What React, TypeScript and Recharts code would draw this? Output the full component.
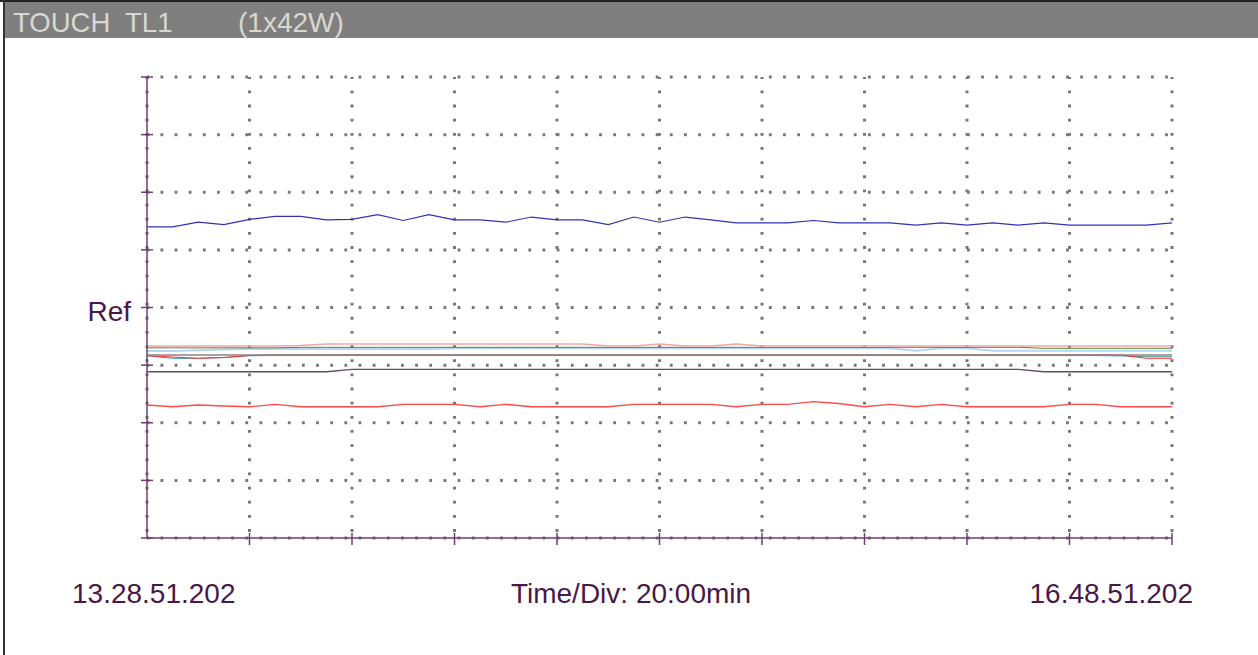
import { LineChart, Line, XAxis, YAxis, CartesianGrid } from 'recharts'

// sample times in minutes from start (5 min steps, 20 min per division)
const minutes = [
  0, 5, 10, 15, 20, 25, 30, 35, 40, 45, 50, 55, 60, 65, 70, 75, 80, 85, 90, 95, 100,
  105, 110, 115, 120, 125, 130, 135, 140, 145, 150, 155, 160, 165, 170, 175, 180, 185, 190, 195, 200,
]

// values in divisions relative to the Ref line
const blue = [
  1.4, 1.4, 1.48, 1.44, 1.53, 1.58, 1.58, 1.52, 1.53, 1.61, 1.51, 1.61, 1.52, 1.52, 1.48, 1.57, 1.52,
  1.52, 1.44, 1.57, 1.48, 1.57, 1.52, 1.47, 1.47, 1.47, 1.51, 1.47, 1.47, 1.47, 1.43, 1.47, 1.43,
  1.47, 1.43, 1.47, 1.43, 1.43, 1.43, 1.43, 1.47,
]
const pink = [
  -0.668, -0.668, -0.668, -0.668, -0.668, -0.668, -0.66, -0.634, -0.634, -0.634, -0.634, -0.634,
  -0.634, -0.634, -0.634, -0.634, -0.634, -0.634, -0.668, -0.668, -0.634, -0.668, -0.668, -0.634,
  -0.668, -0.668, -0.668, -0.668, -0.668, -0.668, -0.668, -0.668, -0.668, -0.668, -0.668, -0.668,
  -0.668, -0.668, -0.668, -0.668, -0.668,
]
const green = [
  -0.7, -0.7, -0.7, -0.7, -0.7, -0.7, -0.691, -0.691, -0.691, -0.691, -0.691, -0.691, -0.691, -0.691,
  -0.691, -0.691, -0.691, -0.691, -0.691, -0.691, -0.691, -0.691, -0.691, -0.691, -0.691, -0.691,
  -0.691, -0.691, -0.691, -0.691, -0.691, -0.691, -0.691, -0.691, -0.691, -0.708, -0.708, -0.708,
  -0.708, -0.708, -0.708,
]
const lightBlue = [
  -0.755, -0.755, -0.743, -0.729, -0.72, -0.72, -0.72, -0.72, -0.72, -0.72, -0.72, -0.72, -0.708,
  -0.708, -0.708, -0.708, -0.708, -0.708, -0.708, -0.708, -0.708, -0.708, -0.708, -0.708, -0.708,
  -0.708, -0.708, -0.708, -0.708, -0.708, -0.75, -0.708, -0.708, -0.75, -0.75, -0.75, -0.75, -0.75,
  -0.75, -0.75, -0.75,
]
const teal = [
  -0.837, -0.882, -0.882, -0.868, -0.837, -0.833, -0.833, -0.833, -0.833, -0.833, -0.833, -0.833,
  -0.833, -0.833, -0.833, -0.833, -0.833, -0.833, -0.833, -0.833, -0.833, -0.833, -0.833, -0.833,
  -0.833, -0.833, -0.833, -0.833, -0.833, -0.833, -0.833, -0.833, -0.833, -0.833, -0.833, -0.833,
  -0.833, -0.833, -0.84, -0.854, -0.854,
]
const redMid = [
  -0.837, -0.859, -0.882, -0.868, -0.833, -0.824, -0.824, -0.824, -0.824, -0.824, -0.824, -0.824,
  -0.824, -0.824, -0.824, -0.824, -0.824, -0.824, -0.824, -0.824, -0.824, -0.824, -0.824, -0.824,
  -0.824, -0.824, -0.824, -0.824, -0.824, -0.824, -0.824, -0.824, -0.824, -0.824, -0.824, -0.824,
  -0.824, -0.824, -0.824, -0.882, -0.882,
]
const gray = [
  -0.824, -0.824, -0.824, -0.824, -0.824, -0.824, -0.824, -0.824, -0.824, -0.824, -0.824, -0.824,
  -0.824, -0.824, -0.824, -0.824, -0.824, -0.824, -0.824, -0.824, -0.824, -0.824, -0.824, -0.824,
  -0.824, -0.824, -0.824, -0.824, -0.824, -0.824, -0.824, -0.824, -0.824, -0.824, -0.824, -0.824,
  -0.824, -0.824, -0.824, -0.824, -0.824,
]
const dark = [
  -1.114, -1.114, -1.114, -1.114, -1.114, -1.114, -1.114, -1.114, -1.073, -1.073, -1.073, -1.073,
  -1.073, -1.073, -1.073, -1.073, -1.073, -1.073, -1.073, -1.073, -1.073, -1.073, -1.073, -1.073,
  -1.073, -1.073, -1.073, -1.073, -1.073, -1.073, -1.073, -1.073, -1.073, -1.073, -1.073, -1.114,
  -1.114, -1.114, -1.114, -1.114, -1.114,
]
const redLow = [
  -1.692, -1.722, -1.692, -1.709, -1.722, -1.68, -1.722, -1.722, -1.722, -1.722, -1.68, -1.68, -1.68,
  -1.722, -1.68, -1.722, -1.722, -1.722, -1.722, -1.68, -1.68, -1.68, -1.68, -1.722, -1.68, -1.68,
  -1.635, -1.666, -1.722, -1.68, -1.722, -1.68, -1.722, -1.722, -1.722, -1.722, -1.68, -1.68, -1.722,
  -1.722, -1.722,
]

const xTicks = [0, 20, 40, 60, 80, 100, 120, 140, 160, 180, 200]
const yTicks = [-4, -3, -2, -1, 0, 1, 2, 3, 4]
const startTime = '13.28.51.202'
const endTime = '16.48.51.202'
const timeDiv = 'Time/Div: 20:00min'
const title = 'TOUCH  TL1'
const subtitle = '(1x42W)'

const FONT = '"Liberation Sans", Arial, sans-serif'
const AXIS = '#6e3f6e'
const TEXT = '#4a1848'

const data = minutes.map((t, i) => ({
  t,
  blue: blue[i],
  pink: pink[i],
  green: green[i],
  lightBlue: lightBlue[i],
  teal: teal[i],
  redMid: redMid[i],
  gray: gray[i],
  dark: dark[i],
  redLow: redLow[i],
}))

function YTick({ x, y, payload }: any) {
  return (
    <g>
      <line x1={x - 6} x2={x + 6} y1={y} y2={y} stroke={AXIS} strokeWidth={1.5} />
      {payload.value === 0 && (
        <text x={x - 16} y={y + 13} textAnchor="end" fontSize={28} fill={TEXT} fontFamily={FONT}>
          Ref
        </text>
      )}
    </g>
  )
}

function XTick({ x, y, index }: any) {
  const last = xTicks.length - 1
  return (
    <g>
      {index > 0 && <line x1={x} x2={x} y1={y - 5} y2={y + 7} stroke={AXIS} strokeWidth={1.5} />}
      {index === 0 && (
        <text x={x - 75} y={y + 65} textAnchor="start" fontSize={28} fill={TEXT} fontFamily={FONT}>
          {startTime}
        </text>
      )}
      {index === 5 && (
        <text x={x - 28.5} y={y + 65} textAnchor="middle" fontSize={28} fill={TEXT} fontFamily={FONT}>
          {timeDiv}
        </text>
      )}
      {index === last && (
        <text x={x + 21} y={y + 65} textAnchor="end" fontSize={28} fill={TEXT} fontFamily={FONT}>
          {endTime}
        </text>
      )}
    </g>
  )
}

export default function App() {
  return (
    <div style={{ position: 'absolute', left: 0, top: 0, width: 1258, height: 655, background: '#fff' }}>
      <div style={{ position: 'absolute', left: 0, top: 0, width: 1258, height: 2, background: '#222' }} />
      <div style={{ position: 'absolute', left: 3, top: 0, width: 2, height: 655, background: '#333' }} />
      <div style={{ position: 'absolute', left: 5, top: 2, width: 1253, height: 36, background: '#7f7f7f' }} />
      <div
        style={{
          position: 'absolute',
          left: 13,
          top: 9,
          fontFamily: FONT,
          fontSize: 27.5,
          lineHeight: '28px',
          color: '#d8d8d0',
          whiteSpace: 'pre',
        }}
      >
        {title}
      </div>
      <div
        style={{
          position: 'absolute',
          left: 238,
          top: 9,
          fontFamily: FONT,
          fontSize: 28,
          lineHeight: '28px',
          color: '#d8d8d0',
          whiteSpace: 'pre',
        }}
      >
        {subtitle}
      </div>
      <div style={{ position: 'absolute', left: 0, top: 0 }}>
        <LineChart width={1258} height={655} data={data} margin={{ top: 77, right: 86, bottom: 57, left: 87 }}>
          <CartesianGrid
            stroke="#777777"
            strokeWidth={3}
            strokeDasharray="2.8 11.35"
            strokeDashoffset={0.7}
          />
          <XAxis
            dataKey="t"
            type="number"
            domain={[0, 200]}
            ticks={xTicks}
            interval={0}
            height={60}
            tickSize={0}
            tickMargin={0}
            tickLine={false}
            axisLine={{ stroke: AXIS, strokeWidth: 1.5 }}
            tick={XTick}
          />
          <YAxis
            type="number"
            domain={[-4, 4]}
            ticks={yTicks}
            interval={0}
            width={60}
            tickSize={0}
            tickMargin={0}
            tickLine={false}
            axisLine={{ stroke: AXIS, strokeWidth: 1.5 }}
            tick={YTick}
          />
          <Line dataKey="lightBlue" stroke="#b8d4f0" strokeWidth={2} dot={false} isAnimationActive={false} />
          <Line dataKey="teal" stroke="#3a9a9a" strokeWidth={1} dot={false} isAnimationActive={false} />
          <Line dataKey="redMid" stroke="#ff3030" strokeWidth={1} dot={false} isAnimationActive={false} />
          <Line dataKey="gray" stroke="#8e8286" strokeWidth={1.5} dot={false} isAnimationActive={false} />
          <Line dataKey="green" stroke="#4a8a3a" strokeWidth={1} dot={false} isAnimationActive={false} />
          <Line dataKey="pink" stroke="#f4a6a6" strokeWidth={1.5} dot={false} isAnimationActive={false} />
          <Line dataKey="dark" stroke="#5e4e64" strokeWidth={1.4} dot={false} isAnimationActive={false} />
          <Line dataKey="redLow" stroke="#ff4a4a" strokeWidth={1.3} dot={false} isAnimationActive={false} />
          <Line dataKey="blue" stroke="#3232b4" strokeWidth={1.2} dot={false} isAnimationActive={false} />
        </LineChart>
      </div>
    </div>
  )
}
